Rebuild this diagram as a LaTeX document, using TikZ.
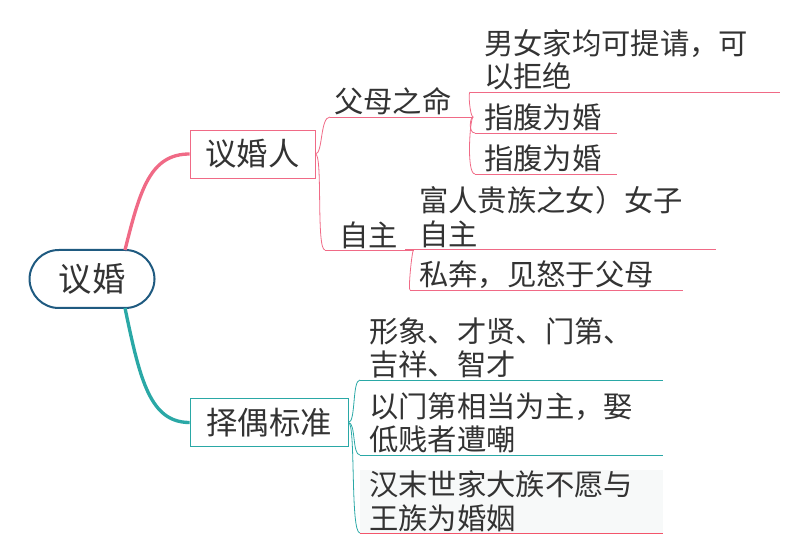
\documentclass[tikz,border=0pt]{standalone}
\usepackage{fontspec}
\setmainfont{Noto Sans CJK SC}
\definecolor{rootc}{HTML}{1F5A80}
\definecolor{pinkc}{HTML}{F06A86}
\definecolor{tealc}{HTML}{2AA8A6}
\definecolor{textc}{HTML}{333333}
\tikzset{
  rootbox/.style={draw=rootc, line width=1.5pt, rounded corners=22pt, minimum width=93.75pt, minimum height=43.5pt, font=\fontsize{25}{30}\selectfont, text=textc},
  mainbox/.style={draw=#1, line width=0.6pt, minimum height=36pt, inner xsep=4pt, font=\fontsize{23.5}{27}\selectfont, text=textc},
  leaf/.style={anchor=south west, align=left, inner xsep=3pt, inner ysep=1pt, font=\fontsize{22}{25}\selectfont, text=textc},
  uline/.style={draw=#1, line width=0.6pt},
  branch/.style={draw=#1, line width=0.6pt},
}
\begin{document}
\begin{tikzpicture}[x=0.75pt, y=-0.75pt]
  \useasboundingbox (0,0) rectangle (800,559);
  % root and main topics
  \node[rootbox] (root) at (92,279) {议婚};
  \node[mainbox=pinkc, minimum width=93.75pt] (ren) at (252.5,154) {议婚人};
  \node[mainbox=tealc, minimum width=118.5pt] (biao) at (269,422.5) {择偶标准};
  \coordinate (rtop) at (125,250);
  \coordinate (rbot) at (125,308);
  \draw[pinkc, line width=2.5pt] (rtop) .. controls (140,190) and (150,154) .. (ren.west);
  \draw[tealc, line width=2.5pt] (rbot) .. controls (140,380) and (150,422.5) .. (biao.west);
  % 议婚人 subtopics
  \node[leaf, text width=101pt] (fumu) at (330,117) {\fontsize{22}{25}\selectfont 父母之命};
  \node[leaf, text width=60pt] (zizhu) at (325,250) {\fontsize{22}{25}\selectfont\,\,自主};
  \draw[uline=pinkc] (fumu.south west) -- (fumu.south east);
  \draw[uline=pinkc] (zizhu.south west) -- (zizhu.south east);
  \draw[branch=pinkc] (ren.east) .. controls (323,154) and (320,117) .. (fumu.south west);
  \draw[branch=pinkc] (ren.east) .. controls (323,154) and (316,250) .. (zizhu.south west);
  % 父母之命 leaves
  \node[leaf, text width=226pt] (l1) at (470,92) {\,\,男女家均可提请，可\\\,\,以拒绝};
  \node[leaf, text width=100pt] (l2) at (475,133) {\,指腹为婚};
  \node[leaf, text width=100pt] (l3) at (475,174) {\,指腹为婚};
  \foreach \n in {l1,l2,l3}
    \draw[uline=pinkc] (\n.south west) -- (\n.south east);
  \draw[branch=pinkc] (fumu.south east) .. controls (470,117) and (468,92) .. (l1.south west);
  \draw[branch=pinkc] (fumu.south east) .. controls (470,117) and (468,133) .. (l2.south west);
  \draw[branch=pinkc] (fumu.south east) .. controls (470,117) and (466,174) .. (l3.south west);
  % 自主 leaves
  \node[leaf, text width=227pt] (l4) at (405,249) {\,\,富人贵族之女）女子\\\,\,自主};
  \node[leaf, text width=198pt] (l5) at (410,290) {\,私奔，见怒于父母};
  \foreach \n in {l4,l5}
    \draw[uline=pinkc] (\n.south west) -- (\n.south east);
  \draw[branch=pinkc] (zizhu.south east) .. controls (412,250) and (408,290) .. (l5.south west);
  % 择偶标准 leaves
  \node[leaf, text width=221pt] (l6) at (360,380) {\,形象、才贤、门第、\\\,吉祥、智才};
  \node[leaf, text width=221pt] (l7) at (360,455) {\,以门第相当为主，娶\\\,低贱者遭嘲};
  \node[leaf, text width=221pt, fill={rgb,255:red,247;green,249;blue,249}] (l8) at (360,533) {\,汉末世家大族不愿与\\\,王族为婚姻};
  \draw[uline=tealc] (l6.south west) -- (l6.south east);
  \draw[uline=tealc] (l7.south west) -- (l7.south east);
  \draw[uline=pinkc!80!red] (l8.south west) -- (l8.south east);
  \draw[branch=tealc] (biao.east) .. controls (356,422.5) and (352,380) .. (l6.south west);
  \draw[branch=tealc] (biao.east) .. controls (356,422.5) and (352,455) .. (l7.south west);
  \draw[branch=tealc] (biao.east) .. controls (356,422.5) and (350,533) .. (l8.south west);
\end{tikzpicture}
\end{document}
